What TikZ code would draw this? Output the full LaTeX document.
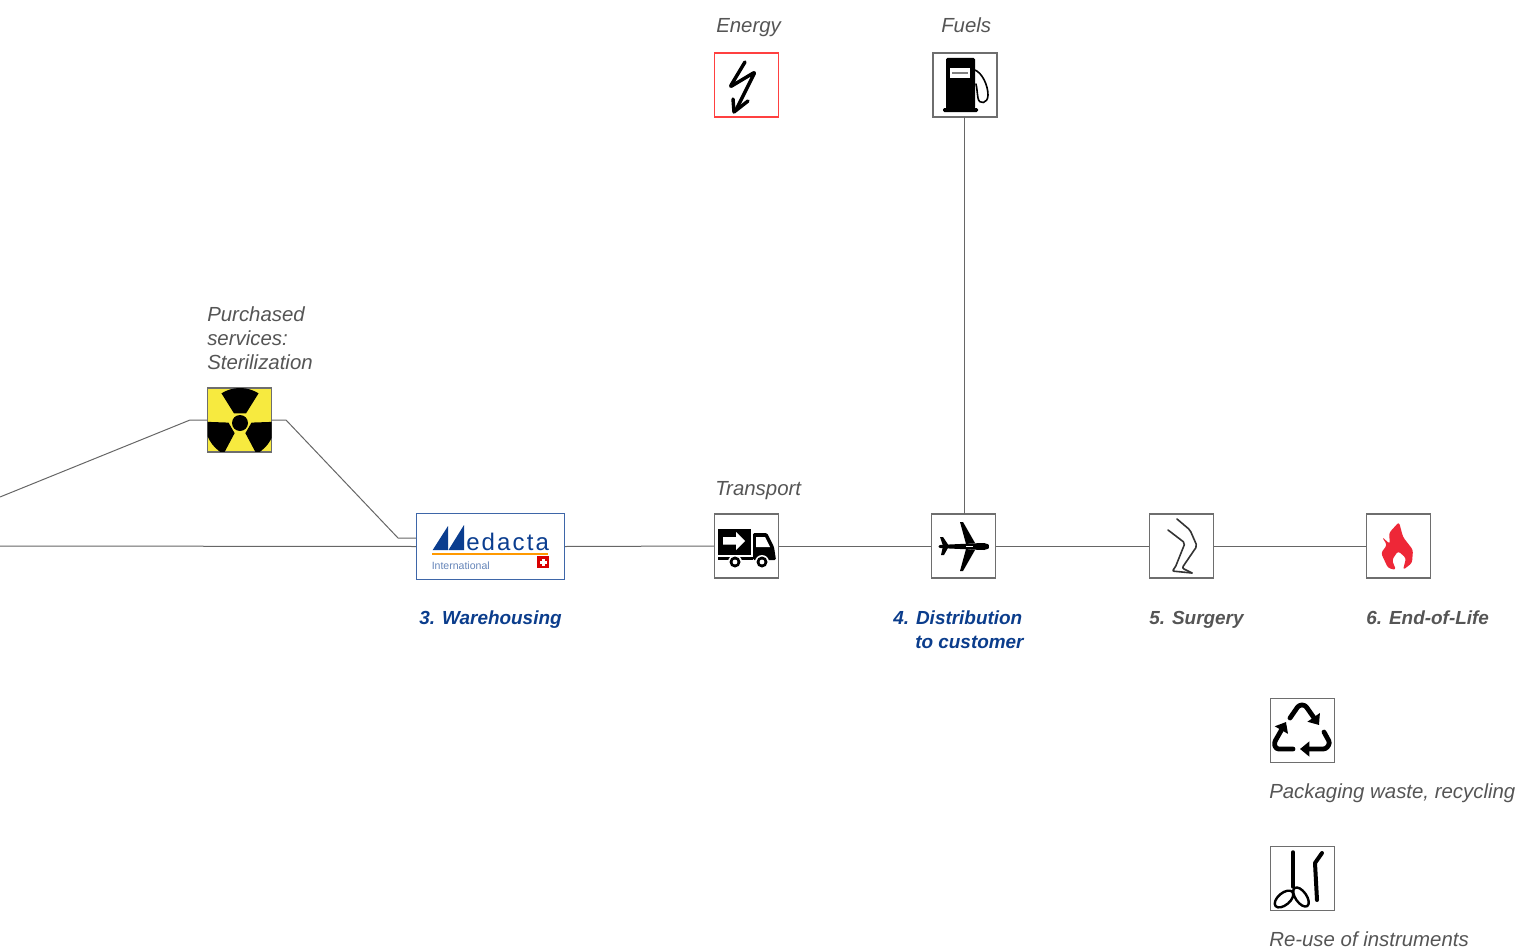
\documentclass[tikz,border=0pt]{standalone}
\usepackage{fontspec}
\setmainfont{Liberation Sans}
\usetikzlibrary{arrows.meta}
\definecolor{wire}{HTML}{666666}
\definecolor{boxgray}{HTML}{6E6E6E}
\definecolor{labelgray}{HTML}{555555}
\definecolor{navy}{HTML}{0B3D8C}
\definecolor{logoblue}{HTML}{0A3D8F}
\definecolor{logoframe}{HTML}{3E66A8}
\definecolor{flamered}{HTML}{EE2737}
\definecolor{radyellow}{HTML}{F7EA3F}
\tikzset{
  x=0.75pt,y=-0.75pt,
  wireline/.style={draw=wire,line width=0.75pt},
  iconbox/.style={draw=boxgray,line width=0.9pt,fill=white,minimum width=48pt,minimum height=48pt,inner sep=0pt},
  lab/.style={anchor=base west,inner sep=0pt,text=labelgray,font=\fontsize{15.3}{18}\selectfont\itshape},
  navylab/.style={anchor=base west,inner sep=0pt,text=navy,font=\fontsize{14.2}{18}\selectfont\bfseries\itshape},
  graylab/.style={anchor=base west,inner sep=0pt,text=labelgray,font=\fontsize{14.2}{18}\selectfont\bfseries\itshape},
  ink/.style={draw=black,line cap=round,line join=round},
  recyc/.style={ink,line width=3.6pt,rounded corners=2pt,-{Triangle[length=7pt,width=11pt]}},
}
\begin{document}
\begin{tikzpicture}
\useasboundingbox (0,0) rectangle (1517,949);
% nodes
\node[iconbox,draw=red!75!white] (energy) at (746.5,85) {};
\node[iconbox] (fuels) at (965,85) {};
\node[iconbox,fill=radyellow] (rad) at (239.5,420) {};
\node[draw=logoframe,line width=0.9pt,fill=white,minimum width=111pt,minimum height=50pt,inner sep=0pt] (medacta) at (490.5,546.5) {};
\node[iconbox] (truck) at (746.5,546) {};
\node[iconbox] (plane) at (963.5,546) {};
\node[iconbox] (leg) at (1181.5,546) {};
\node[iconbox] (flame) at (1398.5,546) {};
\node[iconbox] (recycle) at (1302.5,730.5) {};
\node[iconbox] (scissors) at (1302.5,878.5) {};
\coordinate (leftA) at (0,546);
\coordinate (leftB) at (0,497);
\coordinate (kneeA) at (190,420);
\coordinate (kneeB) at (286,420);
\coordinate (kneeC) at (398,538);
\coordinate (medIn) at (medacta.west |- kneeC);
\coordinate (planeTop) at (964,514);
\coordinate (fuelsBot) at (964,117);
% connectors
\draw[wireline] (leftA) -- (medacta.west);
\draw[wireline] (medacta.east) -- (truck.west);
\draw[wireline] (truck.east) -- (plane.west);
\draw[wireline] (plane.east) -- (leg.west);
\draw[wireline] (leg.east) -- (flame.west);
\draw[wireline] (fuelsBot) -- (planeTop);
\draw[wireline] (leftB) -- (kneeA) -- (rad.west);
\draw[wireline] (rad.east) -- (kneeB) -- (kneeC) -- (medIn);
% bolt
\draw[ink,line width=2.6pt,rounded corners=1.5pt] (745,62) -- (730,87) -- (755,72) -- (736,110);
\draw[ink,line width=2.6pt] (733,99) -- (734,112) -- (748,101);
% pump
\fill[black,rounded corners=1pt] (946,58) rectangle (975,109);
\fill[black,rounded corners=1pt] (943,108) rectangle (978,112);
\fill[white] (950,68) rectangle (970,78);
\fill[gray] (952,72) rectangle (968,74.5);
\draw[ink,line width=1.2pt] (975,70) .. controls (982,73) and (988,85) .. (988,95) .. controls (988,104) and (979,105) .. (978,98) .. controls (977,92) and (977,88) .. (976,84);
% radiation
\begin{scope}
\clip (207.5,388.5) rectangle (271.5,451.5);
\foreach \a in {238,358,118}{
  \fill[black] ([shift={(\a:11.5)}]240,423) -- ([shift={(\a:35)}]240,423) arc[start angle=\a,end angle=\a+64,radius=35] -- ([shift={(\a+64:11.5)}]240,423) -- cycle;
}
\end{scope}
\fill[black] (240,423) circle[radius=8];
% medacta logo
\fill[logoblue] (432.7,550) -- (448,526) -- (448,550) -- cycle;
\fill[logoblue] (448.5,550) -- (464,525) -- (464,550) -- cycle;
\node[anchor=base west,inner sep=0pt,text=logoblue,font=\fontsize{18}{22}\selectfont] (edacta) at (466,550) {e\kern1.6pt d\kern1.6pt a\kern1.6pt c\kern1.6pt t\kern1.6pt a};
\fill[orange!80!yellow] (432,553) rectangle (548,555);
\node[anchor=base west,inner sep=0pt,text=logoframe!80!white,font=\fontsize{7.9}{10}\selectfont] (intl) at (431.5,569) {International};
\fill[red!85!black] (537,556) rectangle (549,568);
\fill[white] (541.5,558.5) rectangle (544.5,565.5);
\fill[white] (539.5,560.5) rectangle (546.5,563.5);
% truck
\fill[black] (718,529) rectangle (751,555);
\fill[white] (723,537) -- (736,537) -- (736,532) -- (745,541) -- (736,550) -- (736,544.5) -- (723,544.5) -- cycle;
\fill[black,rounded corners=1pt] (753,533) -- (767,533) -- (774,547) -- (776,560) -- (753,560) -- cycle;
\fill[white] (756,537) -- (765,537) -- (770,547) -- (756,547) -- cycle;
\fill[black] (718,557) rectangle (753,559.5);
\foreach \wx in {735,762}{
  \fill[white] (\wx,562) circle[radius=7];
  \fill[black] (\wx,562) circle[radius=5.5];
  \fill[white] (\wx,562) circle[radius=2.4];
}
% plane
\fill[black,rounded corners=1.5pt] (938.5,545) -- (982,543) .. controls (986,543) and (989,545) .. (990,546.5) .. controls (989,548) and (986,550) .. (982,550) -- (938.5,548) -- cycle;
\fill[black] (960,522) -- (963,522) -- (975,543) -- (966,544) -- cycle;
\fill[black] (960,571) -- (963,571) -- (975,550) -- (966,549) -- cycle;
\fill[black] (940,537) -- (943,537) -- (949,546) -- (944,555) -- (941,555) -- (943,546) -- cycle;
\fill[white] (966,545.5) rectangle (973,547);
% leg
\draw[black!80,line width=1.2pt,line join=round,line cap=round,rounded corners=1.5pt] (1177,519) -- (1190,530) -- (1197,546) -- (1182,568) -- (1192,573);
\draw[black!80,line width=1.2pt,line join=round,line cap=round,rounded corners=1.5pt] (1168,530) -- (1185,543) -- (1175,568) -- (1172,571) -- (1192,573);
% flame
\fill[flamered,rounded corners=2pt] (1399,522) -- (1403,537) -- (1413,550) -- (1412,563) -- (1403,570) -- (1406,558) -- (1398,551) -- (1392,560) -- (1396,570) -- (1388,568) -- (1381,553) -- (1387,545) -- (1382,537) -- (1390,544) -- (1389,533) -- cycle;
% recycle
\draw[recyc] (1290,718) -- (1299,705) -- (1305,705) -- (1319,725);
\draw[recyc] (1293,749) -- (1276,749) -- (1274,743) -- (1286,722);
\draw[recyc] (1324,732) -- (1330,743) -- (1326,749) -- (1300,749);
% scissors
\draw[ink,line width=2.6pt] (1293,852) -- (1293,887);
\draw[ink,line width=1.8pt,rotate around={40:(1284,899)}] (1284,899) ellipse[x radius=11,y radius=6];
\draw[ink,line width=1.8pt,rotate around={-55:(1301,897)}] (1301,897) ellipse[x radius=11,y radius=5.5];
\draw[ink,line width=3pt] (1322,853) -- (1315,863) -- (1317,900);
% labels
\node[lab] (tE) at (716,33) {Energy};
\node[lab] (tF) at (941,33) {Fuels};
\node[lab] (tP1) at (207,321) {Purchased};
\node[lab] (tP2) at (207,345) {services:};
\node[lab] (tP3) at (207,369) {Sterilization};
\node[lab] (tT) at (715,495) {Transport};
\node[navylab] (tW) at (419,624) {3. Warehousing};
\node[navylab] (tD1) at (893,624) {4. Distribution};
\node[navylab] (tD2) at (915,648) {to customer};
\node[graylab] (tS) at (1149,624) {5. Surgery};
\node[graylab] (tL) at (1366,624) {6. End-of-Life};
\node[lab] (tR) at (1269,798) {Packaging waste, recycling};
\node[lab] (tU) at (1269,946) {Re-use of instruments};
\end{tikzpicture}
\end{document}
